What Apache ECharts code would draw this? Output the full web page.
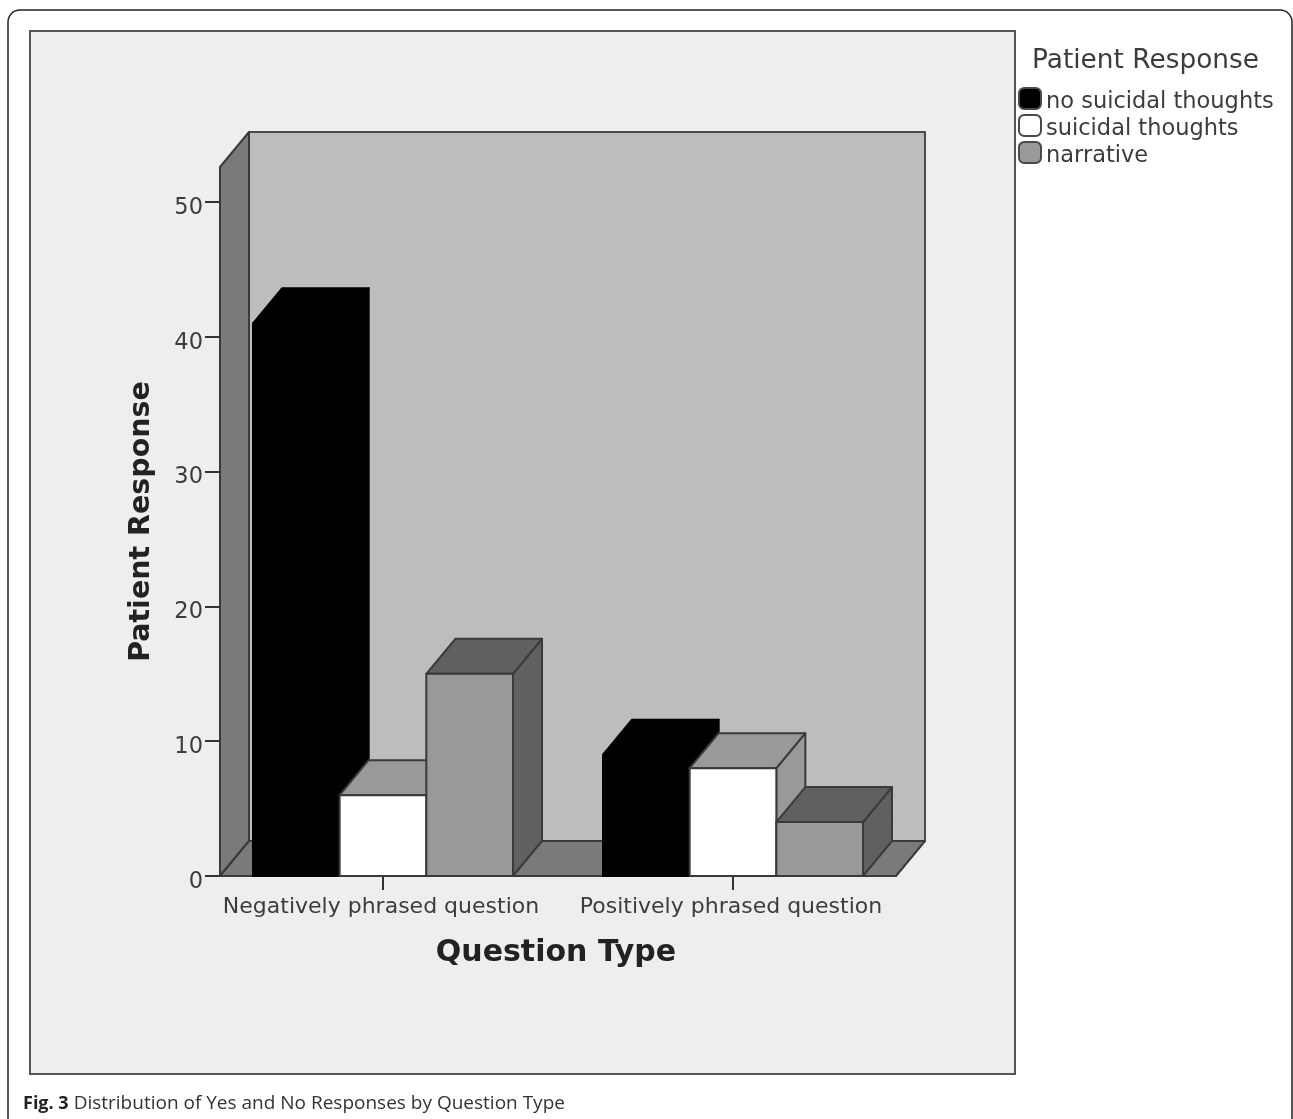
<!DOCTYPE html>
<html><head><meta charset="utf-8">
<style>html,body{margin:0;padding:0;background:#fff}#c{width:1293px;height:1119px}</style>
<script src="https://cdn.jsdelivr.net/npm/echarts@6/dist/echarts.min.js"></script>
</head><body><div id="c"></div>
<script>
const categories = ['Negatively phrased question', 'Positively phrased question'];
const noSuicidal = [41, 9];
const suicidal = [6, 8];
const narrative = [15, 4];
const yTicks = [0, 10, 20, 30, 40, 50];
const seriesNames = ['no suicidal thoughts', 'suicidal thoughts', 'narrative'];

const DEPTH_X = 29, DEPTH_Y = 35, INSET = 12, BAR_RATIO = 0.2476;
const FONT = '"DejaVu Sans"';

function poly(points, fill, stroke, lw) {
  return { type: 'polygon', shape: { points }, style: { fill, stroke, lineWidth: lw, lineJoin: 'round' } };
}
function wallsItem(params) {
  const c = params.coordSys;
  const x0 = c.x + INSET, x1 = c.x + c.width - INSET, yTop = c.y, yBot = c.y + c.height;
  const dx = DEPTH_X, dy = DEPTH_Y;
  return { type: 'group', children: [
    poly([[x0 + dx, yTop - dy], [x1 + dx + 0, yTop - dy], [x1 + dx, yBot - dy], [x0 + dx, yBot - dy]], '#bdbdbd', '#4a4a4a', 2),
    poly([[x0, yTop], [x0 + dx, yTop - dy], [x0 + dx, yBot - dy], [x0, yBot]], '#7a7a7a', '#3a3a3a', 2),
    poly([[x0, yBot], [x0 + dx, yBot - dy], [x1 + dx, yBot - dy], [x1, yBot]], '#7a7a7a', '#3a3a3a', 2)
  ]};
}
function barRenderer(idx, front, shade, stroke) {
  return function (params, api) {
    const base = api.coord([api.value(0), 0]);
    const top = api.coord([api.value(0), api.value(1)]);
    const w = api.size([1, 0])[0] * BAR_RATIO;
    const xl = base[0] + (idx - 1.5) * w, xr = xl + w;
    const yt = top[1], yb = base[1], dx = DEPTH_X, dy = DEPTH_Y;
    return { type: 'group', children: [
      poly([[xr, yb], [xr + dx, yb - dy], [xr + dx, yt - dy], [xr, yt]], shade, stroke, 2),
      poly([[xl, yt], [xl + dx, yt - dy], [xr + dx, yt - dy], [xr, yt]], shade, stroke, 2),
      poly([[xl, yb], [xl, yt], [xr, yt], [xr, yb]], front, stroke, 2)
    ]};
  };
}
function barSeries(name, values, idx, front, shade, stroke) {
  return {
    type: 'custom', name, z: 3,
    coordinateSystem: 'cartesian2d',
    data: values.map((v, i) => [i, v]),
    encode: { x: 0, y: 1 },
    itemStyle: { color: front, borderColor: '#4a4a4a', borderWidth: 2 },
    renderItem: barRenderer(idx, front, shade, stroke),
    silent: true
  };
}

const chart = echarts.init(document.getElementById('c'), null, { renderer: 'canvas' });
chart.setOption({
  animation: false,
  backgroundColor: '#fff',
  graphic: [
    { type: 'rect', shape: { x: 8, y: 10, width: 1284, height: 1120, r: 12 }, style: { fill: '#fff', stroke: '#222', lineWidth: 1.5 }, z: -2 },
    { type: 'rect', shape: { x: 30, y: 31, width: 985, height: 1043 }, style: { fill: '#eeeeee', stroke: '#555', lineWidth: 2 }, z: -1 }
  ],
  title: [
    { text: 'Patient Response', left: 1032, top: 48, textStyle: { fontFamily: FONT, fontSize: 26.4, fontWeight: 'normal', color: '#3c3c3c' }, padding: 0 },
    { text: '{b|Fig. 3} {n|Distribution of Yes and No Responses by Question Type}', left: 23, top: 1094, padding: 0,
      textStyle: { rich: {
        b: { fontFamily: '"Open Sans"', fontSize: 18, fontWeight: 'bold', color: '#222' },
        n: { fontFamily: '"Open Sans"', fontSize: 19, fontWeight: 'normal', color: '#333' }
      } } }
  ],
  legend: {
    orient: 'vertical', left: 1018, top: 87, padding: 0,
    data: seriesNames, icon: 'roundRect', itemWidth: 22, itemHeight: 21, itemGap: 0,
    formatter: '{a|{name}}',
    textStyle: { rich: { a: { fontFamily: FONT, fontSize: 22.5, color: '#3c3c3c', padding: [8, 0, 0, 0] } } },
    selectedMode: false
  },
  grid: { left: 208, top: 167, width: 700, height: 709 },
  xAxis: {
    type: 'category', data: categories,
    axisLine: { show: false },
    axisTick: { show: true, alignWithLabel: true, length: 14, lineStyle: { color: '#333', width: 2 } },
    axisLabel: { fontFamily: FONT, fontSize: 22, color: '#3c3c3c', margin: 18, interval: 0, padding: [2, 4, 0, 0] },
    name: 'Question Type', nameLocation: 'middle', nameGap: 62,
    nameTextStyle: { fontFamily: FONT, fontSize: 30, fontWeight: 'bold', color: '#222', padding: [0, 4, 0, 0] }
  },
  yAxis: {
    type: 'value', min: 0, max: 52.6, interval: 10, offset: -12,
    splitLine: { show: false },
    axisLine: { show: false },
    axisTick: { show: true, length: 15, customValues: yTicks, lineStyle: { color: '#333', width: 2 } },
    axisLabel: { fontFamily: FONT, fontSize: 22.5, color: '#3c3c3c', margin: 17, customValues: yTicks, verticalAlign: 'top', lineHeight: 12 },
    name: 'Patient Response', nameLocation: 'middle', nameGap: 64,
    nameTextStyle: { fontFamily: FONT, fontSize: 28.5, fontWeight: 'bold', color: '#222' }
  },
  series: [
    { type: 'custom', name: 'walls', z: 1, coordinateSystem: 'cartesian2d', data: [[0, 0]], encode: { x: 0, y: 1 }, renderItem: wallsItem, silent: true },
    barSeries(seriesNames[0], noSuicidal, 0, '#000000', '#000000', '#000000'),
    barSeries(seriesNames[1], suicidal, 1, '#ffffff', '#999999', '#3a3a3a'),
    barSeries(seriesNames[2], narrative, 2, '#999999', '#606060', '#3a3a3a')
  ]
});
</script></body></html>
